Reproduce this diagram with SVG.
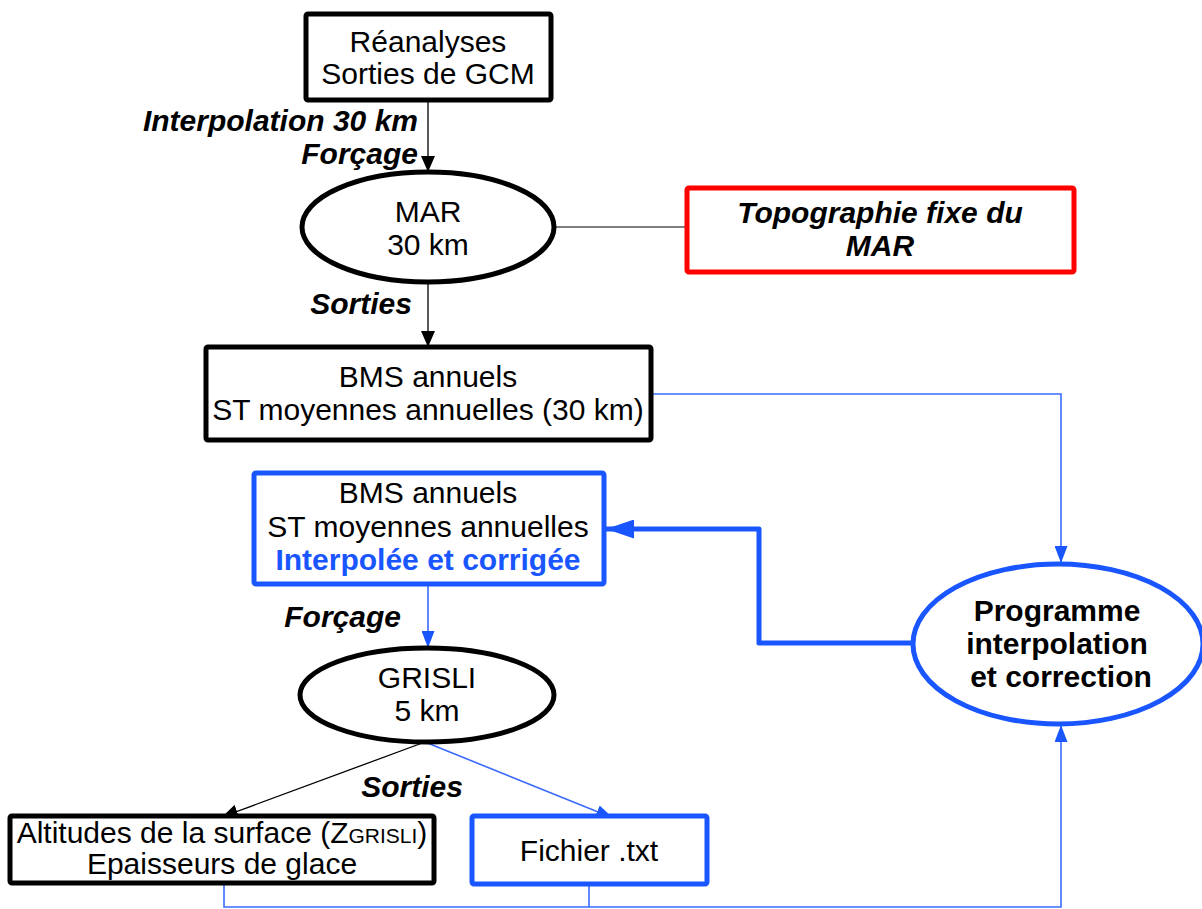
<svg xmlns="http://www.w3.org/2000/svg" width="1202" height="909" viewBox="0 0 1202 909">
<style>
text{font-family:"Liberation Sans",Arial,sans-serif;font-size:30px;fill:#000;text-anchor:middle}
.lbl{font-weight:bold;font-style:italic}
.b{font-weight:bold}
.bl{fill:#1a56ff}
.bk{fill:#fff;stroke:#000;stroke-width:5;stroke-linejoin:round}
.bb{fill:#fff;stroke:#1a56ff;stroke-width:5;stroke-linejoin:round}
.br{fill:#fff;stroke:#ff0000;stroke-width:5;stroke-linejoin:round}
.cb{fill:none;stroke:#000;stroke-width:1.3}
.cg{fill:none;stroke:#555;stroke-width:1.5}
.cu{fill:none;stroke:#3a6bff;stroke-width:1.6}
.ct{fill:none;stroke:#1a56ff;stroke-width:5;stroke-linejoin:round}
</style>
<defs>
<marker id="ak" viewBox="0 0 16 14" refX="16" refY="7" markerWidth="16" markerHeight="14" markerUnits="userSpaceOnUse" orient="auto"><path d="M0,0L16,7L0,14z" fill="#000"/></marker>
<marker id="au" viewBox="0 0 17 13" refX="17" refY="6.5" markerWidth="17" markerHeight="13" markerUnits="userSpaceOnUse" orient="auto"><path d="M0,0L17,6.5L0,13z" fill="#1a56ff"/></marker>
<marker id="at" viewBox="0 0 28 19" refX="28" refY="9.5" markerWidth="28" markerHeight="19" markerUnits="userSpaceOnUse" orient="auto"><path d="M0,0L28,9.5L0,19z" fill="#1a56ff"/></marker>
</defs>
<rect width="1202" height="909" fill="#fff"/>
<g id="connectors">
<path class="cb" d="M428,100V172" marker-end="url(#ak)"/>
<path class="cg" d="M554,227H687"/>
<path class="cb" d="M428,282V347" marker-end="url(#ak)"/>
<path class="cu" d="M651,394H1061V563" marker-end="url(#au)"/>
<path class="ct" d="M913,643H759V529H606" marker-end="url(#at)"/>
<path class="cu" d="M428,585V648" marker-end="url(#au)"/>
<path class="cb" d="M425,742L222,817" marker-end="url(#ak)"/>
<path class="cu" d="M425,742L613,818" marker-end="url(#au)"/>
<path class="cu" d="M224,883V907H1061V725" marker-end="url(#au)"/>
<path class="cu" d="M589,884V907"/>
<text class="lbl" x="418" y="131" style="text-anchor:end">Interpolation 30 km</text>
<text class="lbl" x="418" y="164" style="text-anchor:end">Forçage</text>
<text class="lbl" x="412" y="314" style="text-anchor:end">Sorties</text>
<text class="lbl" x="401" y="627" style="text-anchor:end">Forçage</text>
<text class="lbl" x="412" y="797">Sorties</text>
</g>
<g id="reanalyses">
<rect class="bk" x="306" y="14" width="245" height="86" rx="2"/>
<text x="428" y="52">Réanalyses</text>
<text x="428" y="84">Sorties de GCM</text>
</g>
<g id="mar">
<ellipse class="bk" cx="428" cy="227" rx="126" ry="55"/>
<text x="428" y="222">MAR</text>
<text x="428" y="255">30 km</text>
</g>
<g id="topo">
<rect class="br" x="687" y="188" width="387" height="84" rx="2"/>
<text class="lbl" x="880" y="223">Topographie fixe du</text>
<text class="lbl" x="880" y="256">MAR</text>
</g>
<g id="bms30">
<rect class="bk" x="206" y="347" width="445" height="93" rx="2"/>
<text x="428" y="387">BMS annuels</text>
<text x="428" y="420">ST moyennes annuelles (30 km)</text>
</g>
<g id="bmsinterp">
<rect class="bb" x="254" y="473" width="350" height="111" rx="2"/>
<text x="428" y="503">BMS annuels</text>
<text x="428" y="537">ST moyennes annuelles</text>
<text class="b bl" x="428" y="570">Interpolée et corrigée</text>
</g>
<g id="programme">
<ellipse class="bb" cx="1058" cy="644" rx="145" ry="80"/>
<text class="b" x="1057" y="621">Programme</text>
<text class="b" x="1057" y="654">interpolation</text>
<text class="b" x="1061" y="687">et correction</text>
</g>
<g id="grisli">
<ellipse class="bk" cx="427" cy="695" rx="127" ry="47"/>
<text x="427" y="688">GRISLI</text>
<text x="427" y="721">5 km</text>
</g>
<g id="altitudes">
<rect class="bk" x="10" y="816" width="424" height="67" rx="2"/>
<text x="222" y="843">Altitudes de la surface (Z<tspan style="font-size:21px">GRISLI</tspan>)</text>
<text x="222" y="874">Epaisseurs de glace</text>
</g>
<g id="fichier">
<rect class="bb" x="472" y="816" width="235" height="68" rx="2"/>
<text x="589" y="861">Fichier .txt</text>
</g>
</svg>
